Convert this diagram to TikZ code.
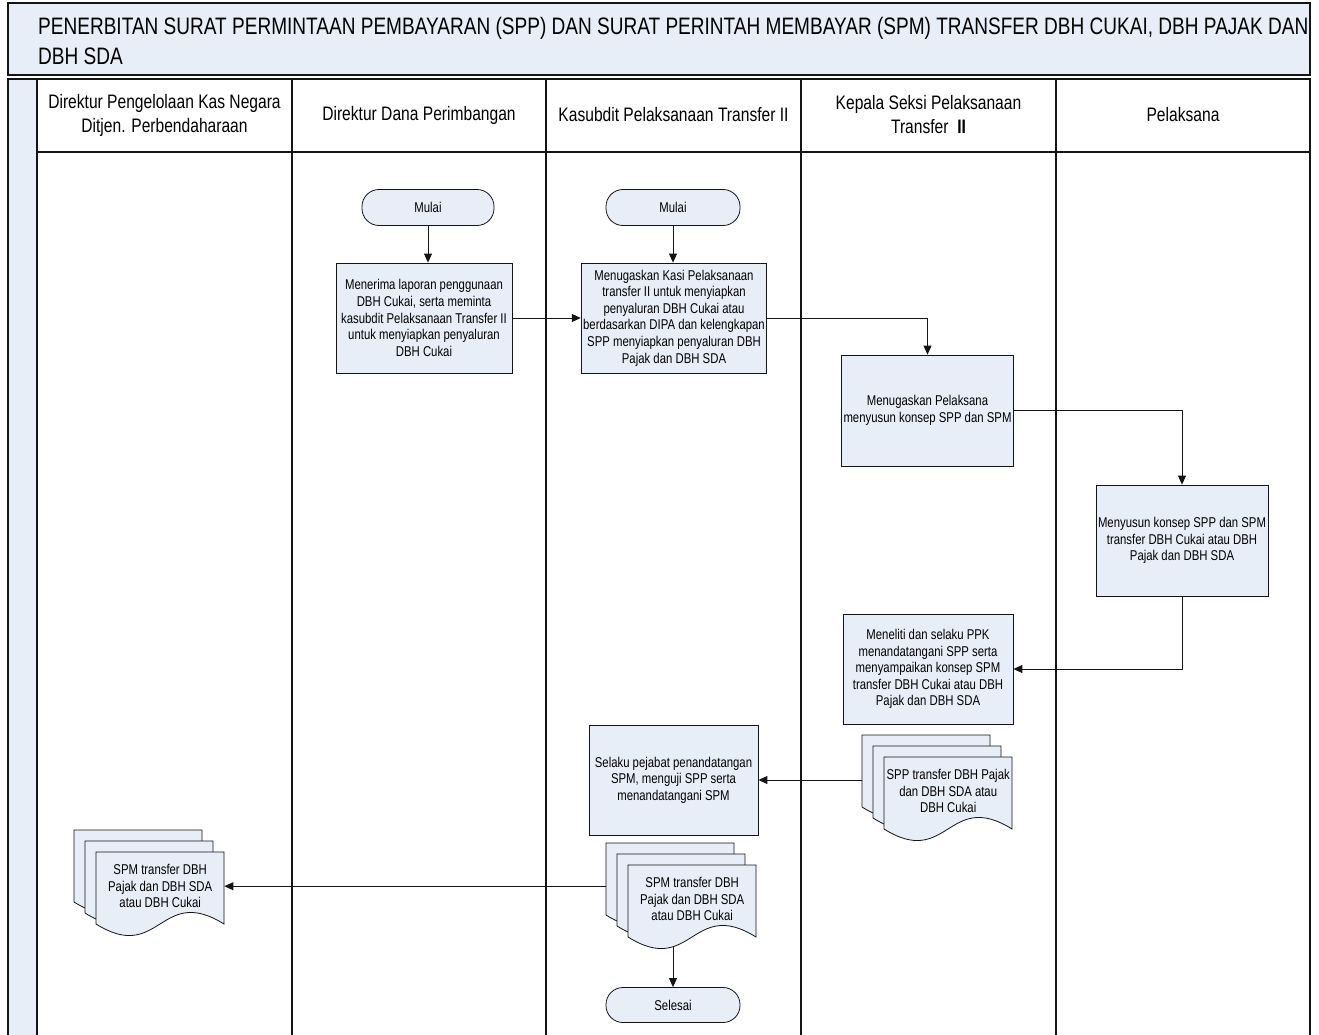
\documentclass[tikz,border=0pt]{standalone}
\usepackage{fontspec}
\setmainfont{Liberation Sans}[FakeStretch=0.8]
\usetikzlibrary{arrows.meta,calc}
\definecolor{bfill}{RGB}{232,238,248}
\definecolor{lnc}{RGB}{20,20,20}
\newcommand\boxfont{\fontsize{14.2}{16.6}\selectfont}
\newcommand\hdrfont{\fontsize{19.5}{24}\selectfont}
\newcommand\ttlfont{\fontsize{23.8}{30}\selectfont}
\newcommand\docsheet[4]{%
  \path[docshape] (#2,#3) -- ++(128,0) -- ++(0,72) .. controls +(-64,-40) and +(64,40) .. ++(-128,0) -- cycle;
  \node[sheetbox] (#1) at (#2,#3) {#4};}
\newcommand\docstack[4]{%
  \docsheet{#1-b1}{#2-22}{#3-22}{}%
  \docsheet{#1-b2}{#2-11}{#3-11}{}%
  \docsheet{#1}{#2}{#3}{#4}}
\begin{document}
\begin{tikzpicture}[x=1pt,y=-1pt,
  proc/.style={draw=lnc, fill=bfill, line width=0.8pt, align=center, font=\boxfont, inner sep=2pt},
  term/.style={draw=lnc, fill=bfill, line width=0.8pt, rounded corners=17pt, minimum width=133pt, minimum height=36pt, font=\boxfont, inner sep=0pt},
  docshape/.style={draw=lnc, fill=bfill, line width=0.8pt},
  sheetbox/.style={anchor=north west, minimum width=128pt, minimum height=68pt, inner sep=0pt, align=center, font=\boxfont},
  hdr/.style={align=center, font=\hdrfont},
  frame/.style={draw=lnc, line width=1.2pt},
  arr/.style={draw=lnc, line width=0.9pt, -{Triangle[length=9pt,width=8pt]}}]
\useasboundingbox (0,0) rectangle (1319,1035);
\fill[white] (0,0) rectangle (1319,1035);
% title band
\draw[frame, fill=bfill] (8,3) rectangle (1310,75);
\node[anchor=base west, font=\ttlfont, inner sep=0pt] (title1) at (38,35) {PENERBITAN SURAT PERMINTAAN PEMBAYARAN (SPP) DAN SURAT PERINTAH MEMBAYAR (SPM) TRANSFER DBH CUKAI, DBH PAJAK DAN};
\node[anchor=base west, font=\ttlfont, inner sep=0pt] (title2) at (38,65) {DBH SDA};
% pool and lanes
\fill[bfill] (8,79) rectangle (37,1040);
\draw[frame] (8,1040) -- (8,79) -- (1310,79) -- (1310,1040);
\draw[frame] (37,79) -- (37,1040);
\draw[frame] (37,152) -- (1310,152);
\foreach \xx in {292,546,801,1056} \draw[frame] (\xx,79) -- (\xx,1040);
% headers
\node[hdr] (h1) at (164.5,115) {Direktur Pengelolaan Kas Negara\\Ditjen. Perbendaharaan};
\node[hdr] (h2) at (419,115) {Direktur Dana Perimbangan};
\node[hdr] (h3) at (673.5,115) {Kasubdit Pelaksanaan Transfer II};
\node[hdr] (h4) at (928.5,115) {Kepala Seksi Pelaksanaan\\Transfer~~\textbf{II}};
\node[hdr] (h5) at (1183,115) {Pelaksana};
% terminals
\node[term, minimum width=132pt] (mulai2) at (428,207.5) {Mulai};
\node[term, minimum width=134pt] (mulai3) at (673,207.5) {Mulai};
\node[term, minimum width=134pt, minimum height=35pt] (selesai) at (673,1005) {Selesai};
% processes
\node[proc, minimum width=176pt, minimum height=110pt] (pA) at (424,318)
  {Menerima laporan penggunaan\\DBH Cukai, serta meminta\\kasubdit Pelaksanaan Transfer II\\untuk menyiapkan penyaluran\\DBH Cukai};
\node[proc, minimum width=184pt, minimum height=110pt] (pB) at (674,318)
  {Menugaskan Kasi Pelaksanaan\\transfer II untuk menyiapkan\\penyaluran DBH Cukai atau\\berdasarkan DIPA dan kelengkapan\\SPP menyiapkan penyaluran DBH\\Pajak dan DBH SDA};
\node[proc, minimum width=169pt, minimum height=111pt] (pC) at (927.5,410.5)
  {Menugaskan Pelaksana\\menyusun konsep SPP dan SPM};
\node[proc, minimum width=170pt, minimum height=111pt] (pD) at (1182,540.5)
  {Menyusun konsep SPP dan SPM\\transfer DBH Cukai atau DBH\\Pajak dan DBH SDA};
\node[proc, minimum width=170pt, minimum height=110pt] (pE) at (928,669)
  {Meneliti dan selaku PPK\\menandatangani SPP serta\\menyampaikan konsep SPM\\transfer DBH Cukai atau DBH\\Pajak dan DBH SDA};
\node[proc, minimum width=169pt, minimum height=110pt] (pF) at (673.5,780)
  {Selaku pejabat penandatangan\\SPM, menguji SPP serta\\menandatangani SPM};
% documents
\docstack{spp}{884}{757}{SPP transfer DBH Pajak\\dan DBH SDA atau\\DBH Cukai}
\docstack{spm3}{628}{865}{SPM transfer DBH\\Pajak dan DBH SDA\\atau DBH Cukai}
\docstack{spm1}{96}{852}{SPM transfer DBH\\Pajak dan DBH SDA\\atau DBH Cukai}
\coordinate (spm3bot) at (673,947);
% connectors
\draw[arr] (mulai2.south) -- (mulai2.south |- pA.north);
\draw[arr] (mulai3.south) -- (mulai3.south |- pB.north);
\draw[arr] (pA.east) -- (pB.west);
\draw[arr] (pB.east) -| (pC.north);
\draw[arr] (pC.east) -| (pD.north);
\draw[arr] (pD.south) |- (pE.east);
\draw[arr] (spp-b1.west |- pF.east) -- (pF.east);
\draw[arr] (spm3-b1.west |- spm1.east) -- (spm1.east);
\draw[arr] (spm3bot) -- (selesai.north);
\end{tikzpicture}
\end{document}
